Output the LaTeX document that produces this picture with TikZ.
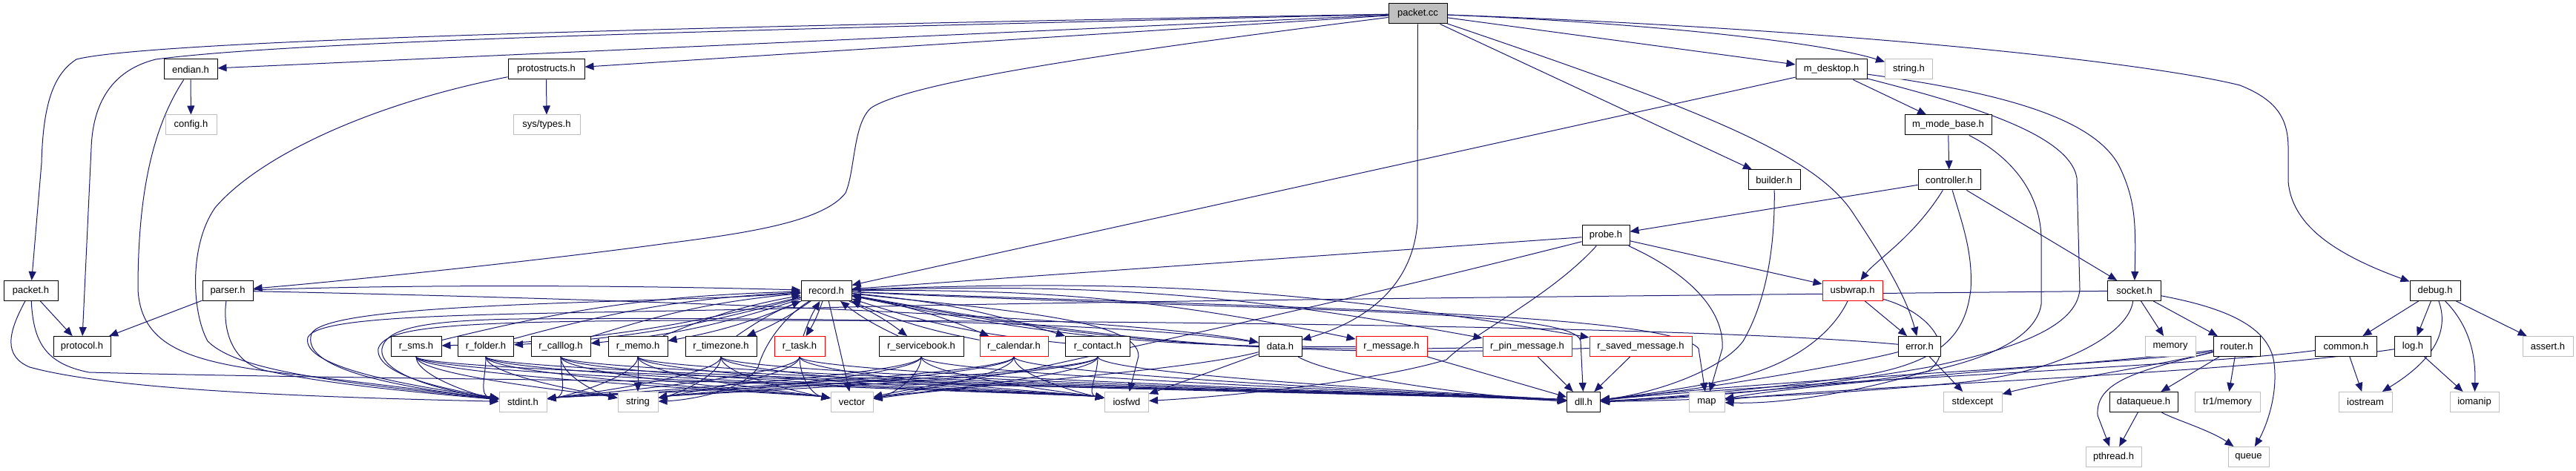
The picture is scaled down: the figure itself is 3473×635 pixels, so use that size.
\documentclass[tikz,border=0pt]{standalone}
\usepackage{fontspec}
\setmainfont{Liberation Sans}
\usetikzlibrary{arrows.meta,calc}
\definecolor{edgec}{HTML}{191970}
\definecolor{greyc}{HTML}{BFBFBF}
\pgfdeclarelayer{bg}
\pgfsetlayers{bg,main}
\begin{document}
\begin{tikzpicture}[x=0.5pt,y=-0.5pt,
  nbase/.style={rectangle, line width=0.5pt, minimum height=13.5pt, inner sep=0pt, fill=white, text=black, font=\fontsize{6.5pt}{7.8pt}\selectfont},
  nblack/.style={nbase, draw=black},
  ngrey/.style={nbase, draw=greyc},
  nred/.style={nbase, draw=red},
  nroot/.style={nbase, draw=black, fill=greyc},
  dep/.style={draw=edgec, line width=0.5pt, -{Triangle[length=6pt,width=5pt]}}
]
\useasboundingbox (0,0) rectangle (3473,635);
% ---------------- nodes ----------------
\node[nroot,  minimum width=39.5pt] (pc) at (1911.5,18.5) {packet.cc};
\node[nblack, minimum width=36pt]   (endian) at (257,93.5) {endian.h};
\node[ngrey,  minimum width=34.5pt] (config) at (257.5,168.5) {config.h};
\node[nblack, minimum width=51.5pt] (protostr) at (736.5,93.5) {protostructs.h};
\node[ngrey,  minimum width=45pt]   (systypes) at (737,168.5) {sys/types.h};
\node[nblack, minimum width=36.5pt] (packeth) at (41.5,392) {packet.h};
\node[nblack, minimum width=38.5pt] (protocol) at (110.5,467) {protocol.h};
\node[nblack, minimum width=34pt]   (parser) at (307,392) {parser.h};
\node[nblack, minimum width=34pt]   (rsms) at (561,467) {r\_sms.h};
\node[nblack, minimum width=37.5pt] (rfolder) at (655,467) {r\_folder.h};
\node[nblack, minimum width=40pt]   (rcalllog) at (756,467) {r\_calllog.h};
\node[nblack, minimum width=40pt]   (rmemo) at (860,467) {r\_memo.h};
\node[nblack, minimum width=48pt]   (rtz) at (972,467) {r\_timezone.h};
\node[nred,   minimum width=34pt]   (rtask) at (1078,467) {r\_task.h};
\node[nblack, minimum width=34pt]   (record) at (1114,392) {record.h};
\node[ngrey,  minimum width=32pt]   (stdint) at (705,542) {stdint.h};
\node[ngrey,  minimum width=27pt]   (string) at (860,542) {string};
\node[ngrey,  minimum width=28.5pt] (vector) at (1148.5,542) {vector};
\node[nblack, minimum width=57pt]   (rsb) at (1242,467) {r\_servicebook.h};
\node[nred,   minimum width=46pt]   (rcal) at (1367,467) {r\_calendar.h};
\node[nblack, minimum width=43.5pt] (rcontact) at (1480,467) {r\_contact.h};
\node[nblack, minimum width=29pt]   (data) at (1726,467) {data.h};
\node[ngrey,  minimum width=29.5pt] (iosfwd) at (1519,542) {iosfwd};
\node[nblack, minimum width=32pt]   (probe) at (2165,317.5) {probe.h};
\node[nred,   minimum width=48pt]   (rmsg) at (1876,467) {r\_message.h};
\node[nred,   minimum width=60pt]   (rpin) at (2059,467) {r\_pin\_message.h};
\node[nred,   minimum width=69pt]   (rsaved) at (2212,467) {r\_saved\_message.h};
\node[nblack, minimum width=22.5pt] (dll) at (2135,542) {dll.h};
\node[ngrey,  minimum width=24pt]   (map) at (2301,542) {map};
\node[nblack, minimum width=48pt]   (mdesk) at (2469,93.5) {m\_desktop.h};
\node[ngrey,  minimum width=32pt]   (stringh) at (2573.5,93.5) {string.h};
\node[nblack, minimum width=58.5pt] (mmode) at (2626.5,168.5) {m\_mode\_base.h};
\node[nblack, minimum width=35pt]   (builder) at (2392,242.5) {builder.h};
\node[nblack, minimum width=42pt]   (controller) at (2628,242.5) {controller.h};
\node[nred,   minimum width=40.5pt] (usbwrap) at (2497.5,392) {usbwrap.h};
\node[nblack, minimum width=36pt]   (socket) at (2877.5,392) {socket.h};
\node[nblack, minimum width=28.5pt] (error) at (2588,467) {error.h};
\node[ngrey,  minimum width=39.5pt] (stdexcept) at (2659.5,542) {stdexcept};
\node[ngrey,  minimum width=34pt]   (memory) at (2926,467) {memory};
\node[nblack, minimum width=31.5pt] (router) at (3015.5,467) {router.h};
\node[nblack, minimum width=46pt]   (dataq) at (2890,542) {dataqueue.h};
\node[ngrey,  minimum width=44pt]   (tr1mem) at (3003,542) {tr1/memory};
\node[ngrey,  minimum width=37.5pt] (pthread) at (2849.5,616) {pthread.h};
\node[ngrey,  minimum width=27.5pt] (queue) at (3031.5,616) {queue};
\node[nblack, minimum width=34pt]   (debug) at (3283,392) {debug.h};
\node[nblack, minimum width=41.5pt] (common) at (3163,467) {common.h};
\node[nblack, minimum width=24.5pt] (log) at (3253,467) {log.h};
\node[ngrey,  minimum width=34pt]   (assert) at (3435,467) {assert.h};
\node[ngrey,  minimum width=36pt]   (iostream) at (3189,542) {iostream};
\node[ngrey,  minimum width=33pt]   (iomanip) at (3336,542) {iomanip};
% ---------------- edges ----------------
\begin{pgfonlayer}{bg}
\fill[white] (0,0) rectangle (3473,635);
% packet.cc
\draw[dep] (pc) .. controls (900,36) and (200,55) .. (103,80) .. controls (72,100) and (58,140) .. (56,220) -- (packeth);
\draw[dep] (pc) .. controls (1000,40) and (400,55) .. (210,80) .. controls (150,95) and (125,140) .. (123,200) -- (protocol);
\draw[dep] (pc) -- (endian);
\draw[dep] (pc) -- (protostr);
\draw[dep] (pc) .. controls (1500,70) and (1230,110) .. (1175,145) .. controls (1150,165) and (1153,230) .. (1140,260) .. controls (1110,300) and (1000,315) .. (900,328) .. controls (700,355) and (450,380) .. (parser);
\draw[dep] (pc) -- (1911,300) .. controls (1905,380) and (1850,430) .. (data);
\draw[dep] (pc) -- (builder);
\draw[dep] (pc) .. controls (2300,150) and (2450,210) .. (2500,290) .. controls (2540,350) and (2570,400) .. (error);
\draw[dep] (pc) -- (mdesk);
\draw[dep] (pc) .. controls (2200,30) and (2450,55) .. (stringh);
\draw[dep] (pc) .. controls (2500,40) and (2900,85) .. (3020,115) .. controls (3070,135) and (3085,160) .. (3085,200) -- (3085,245) .. controls (3090,300) and (3140,340) .. (debug);
% left part
\draw[dep] (endian) -- (config);
\draw[dep] (endian) .. controls (200,180) and (186,280) .. (186,390) .. controls (190,470) and (260,490) .. (400,505) -- (stdint);
\draw[dep] (protostr) -- (systypes);
\draw[dep] (protostr) .. controls (500,140) and (350,210) .. (290,280) .. controls (255,330) and (258,420) .. (280,460) .. controls (320,500) and (450,515) .. (stdint);
\draw[dep] (packeth) -- (protocol);
\draw[dep] (packeth) .. controls (10,450) and (5,480) .. (40,495) .. controls (150,525) and (400,535) .. (stdint);
\draw[dep] (packeth) .. controls (45,460) and (60,490) .. (120,502) .. controls (600,515) and (1600,515) .. (dll);
\draw[dep] (parser) -- (protocol);
\draw[dep] (parser) .. controls (300,440) and (310,490) .. (360,500) .. controls (450,520) and (600,532) .. (stdint);
\draw[dep] (parser) .. controls (600,382) and (900,386) .. (record);
\draw[dep] (parser) .. controls (800,402) and (1500,425) .. (data);
% record <-> record types
\foreach \src in {rsms,rfolder,rcalllog,rmemo,rtz,rtask,rsb,rcal,rcontact,rmsg,rpin,rsaved}{
  \draw[dep] (record) to[bend left=6] (\src);
  \draw[dep] (\src) to[bend left=6] (record);
}
% record types -> system headers
\foreach \src in {rsms,rfolder}{
  \draw[dep] (\src) .. controls ($(\src)+(0,40)$) and ($(stdint)+(-60,-8)$) .. (stdint);}
\foreach \src in {rcalllog,rmemo,rtz,rtask,rsb,rcal,rcontact}{
  \draw[dep] (\src) .. controls ($(\src)+(0,40)$) and ($(stdint)+(60,-8)$) .. (stdint);}
\foreach \src in {rsms,rfolder,rcalllog}{
  \draw[dep] (\src) .. controls ($(\src)+(0,40)$) and ($(string)+(-50,-10)$) .. (string);}
\draw[dep] (rmemo) -- (string);
\foreach \src in {rtz,rtask,rsb,rcal,rcontact}{
  \draw[dep] (\src) .. controls ($(\src)+(0,40)$) and ($(string)+(50,-10)$) .. (string);}
\foreach \src in {rsms,rfolder,rcalllog,rmemo,rtz,rtask}{
  \draw[dep] (\src) .. controls ($(\src)+(0,40)$) and ($(vector)+(-55,-10)$) .. (vector);}
\foreach \src in {rsb,rcal,rcontact}{
  \draw[dep] (\src) .. controls ($(\src)+(0,40)$) and ($(vector)+(55,-10)$) .. (vector);}
\foreach \src in {rsms,rfolder,rcalllog,rmemo,rtz,rtask,rsb,rcal,rcontact}{
  \draw[dep] (\src) .. controls ($(\src)+(0,40)$) and ($(iosfwd)+(-55,-10)$) .. (iosfwd);
  \draw[dep] (\src) .. controls ($(\src)+(0,40)$) and ($(dll)+(-60,-6)$) .. (dll);}
\draw[dep] (rmsg) -- (dll);
\draw[dep] (rpin) -- (dll);
\draw[dep] (rsaved) -- (dll);
% record
\draw[dep] (record) .. controls (900,410) and (440,405) .. (420,450) .. controls (405,495) and (520,520) .. (stdint);
\draw[dep] (record) .. controls (1060,425) and (1032,460) .. (1022,495) .. controls (1000,530) and (920,540) .. (string);
\draw[dep] (record) -- (vector);
\draw[dep] (record) .. controls (1350,418) and (1535,430) .. (1535,480) -- (iosfwd);
\draw[dep] (record) .. controls (1700,420) and (2125,415) .. (2131,460) -- (dll);
\draw[dep] (record) .. controls (1700,415) and (2250,420) .. (2290,470) -- (map);
% data
\draw[dep] (data) -- (iosfwd);
\draw[dep] (data) .. controls (1800,510) and (2000,535) .. (dll);
\draw[dep] (data) .. controls (1600,500) and (1300,520) .. (vector);
\draw[dep] (data) .. controls (1500,430) and (1000,428) .. (700,430) .. controls (560,432) and (520,445) .. (515,470) .. controls (510,505) and (600,528) .. (stdint);
% probe
\draw[dep] (probe) -- (usbwrap);
\draw[dep] (probe) .. controls (2280,370) and (2325,420) .. (2322,470) -- (map);
\draw[dep] (probe) -- (record);
\draw[dep] (probe) .. controls (2090,400) and (1985,450) .. (1950,485) .. controls (1850,515) and (1650,535) .. (iosfwd);
\draw[dep] (probe) .. controls (1800,410) and (1560,460) .. (1380,500) .. controls (1250,520) and (1200,530) .. (vector);
% m_desktop, m_mode_base, controller, builder
\draw[dep] (mdesk) -- (record);
\draw[dep] (mdesk) -- (mmode);
\draw[dep] (mdesk) .. controls (2700,125) and (2830,160) .. (2860,230) .. controls (2878,270) and (2880,300) .. (socket);
\draw[dep] (mdesk) .. controls (2650,140) and (2790,180) .. (2800,240) -- (2804,390) .. controls (2800,440) and (2720,470) .. (2600,495) .. controls (2400,530) and (2250,538) .. (dll);
\draw[dep] (mmode) -- (controller);
\draw[dep] (mmode) .. controls (2700,205) and (2750,250) .. (2752,320) -- (2752,410) .. controls (2745,460) and (2660,500) .. (2500,515) .. controls (2350,530) and (2220,538) .. (dll);
\draw[dep] (controller) -- (probe);
\draw[dep] (controller) .. controls (2580,320) and (2530,350) .. (usbwrap);
\draw[dep] (controller) .. controls (2645,300) and (2660,340) .. (2657,390) .. controls (2650,450) and (2620,490) .. (2500,508) .. controls (2350,528) and (2220,538) .. (dll);
\draw[dep] (controller) -- (socket);
\draw[dep] (builder) .. controls (2393,320) and (2385,400) .. (2350,460) .. controls (2320,500) and (2230,530) .. (dll);
% usbwrap
\draw[dep] (usbwrap) -- (error);
\draw[dep] (usbwrap) .. controls (2475,440) and (2430,490) .. (2330,512) .. controls (2250,528) and (2190,535) .. (dll);
\draw[dep] (usbwrap) .. controls (2600,420) and (2640,470) .. (2600,500) .. controls (2500,530) and (2400,545) .. (map);
% socket
\draw[dep] (socket) -- (memory);
\draw[dep] (socket) -- (router);
\draw[dep] (socket) .. controls (3000,415) and (3060,440) .. (3066,490) .. controls (3072,540) and (3050,585) .. (queue);
\draw[dep] (socket) .. controls (2870,450) and (2780,500) .. (2650,515) .. controls (2450,535) and (2250,540) .. (dll);
\draw[dep] (socket) .. controls (2300,398) and (1500,405) .. (1100,415) .. controls (700,425) and (430,420) .. (415,455) .. controls (405,495) and (550,520) .. (stdint);
% error
\draw[dep] (error) -- (stdexcept);
\draw[dep] (error) .. controls (2500,490) and (2300,525) .. (dll);
\draw[dep] (error) .. controls (2300,440) and (1500,432) .. (1000,432) .. controls (600,432) and (520,440) .. (510,470) .. controls (505,505) and (600,525) .. (stdint);
% router, dataqueue
\draw[dep] (router) -- (dataq);
\draw[dep] (router) -- (tr1mem);
\draw[dep] (router) .. controls (2880,500) and (2825,515) .. (2828,560) -- (pthread);
\draw[dep] (router) .. controls (2900,495) and (2760,515) .. (stdexcept);
\draw[dep] (router) .. controls (2900,490) and (2400,510) .. (dll);
\draw[dep] (router) .. controls (2900,485) and (2450,515) .. (map);
\draw[dep] (dataq) -- (pthread);
\draw[dep] (dataq) .. controls (2930,565) and (2980,580) .. (queue);
% debug, common, log
\draw[dep] (debug) -- (common);
\draw[dep] (debug) -- (log);
\draw[dep] (debug) .. controls (3300,440) and (3290,480) .. (iostream);
\draw[dep] (debug) .. controls (3330,440) and (3338,480) .. (iomanip);
\draw[dep] (debug) -- (assert);
\draw[dep] (common) -- (iostream);
\draw[dep] (common) .. controls (2950,495) and (2400,515) .. (dll);
\draw[dep] (log) -- (iomanip);
\draw[dep] (log) .. controls (3000,505) and (2500,520) .. (map);
\end{pgfonlayer}
\end{tikzpicture}
\end{document}
